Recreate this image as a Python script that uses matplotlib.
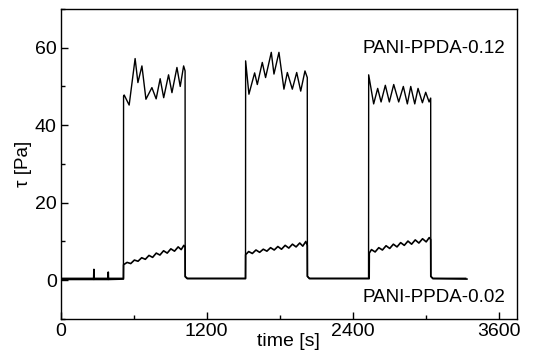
import matplotlib
matplotlib.use("Agg")
import matplotlib.pyplot as plt

plt.rcParams['font.family'] = ['Liberation Sans', 'DejaVu Sans']

# PANI-PPDA-0.12 (high stress) : time [s], tau [Pa]
high_t = [0, 270, 515, 516, 521, 562, 611, 634, 667, 700, 749, 784, 817, 846, 886, 914, 955, 982, 1010, 1022,
          1023, 1040, 1519,
          1520, 1547, 1594, 1616, 1657, 1684, 1731, 1753, 1794, 1835, 1863, 1904, 1940, 1973, 2008, 2027,
          2028, 2045, 2531,
          2532, 2573, 2606, 2634, 2669, 2702, 2738, 2779, 2817, 2850, 2878, 2911, 2938, 2974, 3001, 3029, 3042,
          3043, 3060, 3330]
high_v = [0.5, 0.5, 0.5, 47.5, 47.8, 45.2, 57.2, 51.0, 55.3, 46.7, 49.7, 46.8, 52.0, 47.1, 53.0, 48.4, 54.9, 50.0, 55.3, 54.0,
          1.0, 0.5, 0.5,
          56.6, 48.0, 53.5, 50.5, 56.2, 52.3, 58.8, 53.2, 58.8, 49.3, 53.6, 49.3, 53.6, 48.8, 54.0, 52.3,
          1.0, 0.5, 0.5,
          53.0, 45.5, 49.5, 46.0, 50.3, 46.0, 50.5, 46.0, 50.0, 45.5, 50.0, 45.5, 49.5, 45.8, 48.5, 46.0, 47.0,
          1.0, 0.5, 0.5]

# PANI-PPDA-0.02 (low stress)
low_t = [0, 10, 270, 272, 274, 388, 390, 392, 515,
         516, 545, 575, 605, 635, 665, 695, 725, 755, 785, 815, 845, 875, 905, 935, 965, 990, 1012, 1022,
         1023, 1040, 1519,
         1520, 1545, 1575, 1605, 1635, 1665, 1695, 1725, 1755, 1785, 1815, 1845, 1875, 1905, 1935, 1965, 1990, 2015, 2027,
         2028, 2045, 2536,
         2537, 2555, 2585, 2615, 2645, 2675, 2705, 2735, 2765, 2795, 2825, 2855, 2885, 2915, 2945, 2975, 3005, 3030, 3042,
         3043, 3060, 3340]
low_v = [0.6, 0.2, 0.2, 2.8, 0.2, 0.2, 2.1, 0.2, 0.3,
         4.0, 4.6, 4.3, 5.2, 4.9, 5.8, 5.4, 6.4, 5.9, 7.0, 6.5, 7.6, 7.0, 8.1, 7.5, 8.6, 7.9, 9.0, 8.6,
         0.9, 0.4, 0.4,
         6.6, 7.4, 6.9, 7.8, 7.2, 8.0, 7.5, 8.4, 7.8, 8.7, 8.0, 9.0, 8.3, 9.3, 8.6, 9.6, 8.8, 10.0, 9.0,
         1.0, 0.4, 0.4,
         7.0, 7.9, 7.3, 8.4, 7.8, 8.9, 8.2, 9.3, 8.6, 9.7, 9.0, 10.1, 9.3, 10.4, 9.6, 10.7, 9.9, 11.0, 10.5,
         1.0, 0.4, 0.3]

x_ticks = [0, 1200, 2400, 3600]
y_ticks = [0, 20, 40, 60]

fig = plt.figure(figsize=(5.48, 3.58), dpi=100)
ax = fig.add_axes([0.111, 0.109, 0.832, 0.866])

ax.plot(high_t, high_v, color='black', lw=1.0)
ax.plot(low_t, low_v, color='black', lw=1.2)

ax.set_xlim(0, 3750)
ax.set_ylim(-10, 70)
ax.set_xticks(x_ticks)
ax.set_yticks(y_ticks)
ax.set_xticks([600, 1800, 3000], minor=True)
ax.set_yticks([-10, 10, 30, 50, 70], minor=True)
ax.tick_params(which='both', direction='in', top=False, right=False, labelsize=14, width=1.0)
ax.tick_params(which='major', length=5, pad=3)
ax.tick_params(which='minor', length=3)
for s in ax.spines.values():
    s.set_linewidth(1.0)

ax.set_xlabel('time [s]', fontsize=14, labelpad=-5)
ax.set_ylabel('τ [Pa]', fontsize=13.5, labelpad=2)

ax.text(0.975, 0.874, 'PANI-PPDA-0.12', transform=ax.transAxes, ha='right', va='center', fontsize=13.5)
ax.text(0.975, 0.068, 'PANI-PPDA-0.02', transform=ax.transAxes, ha='right', va='center', fontsize=13.5)

fig.savefig('out.png', dpi=100)
